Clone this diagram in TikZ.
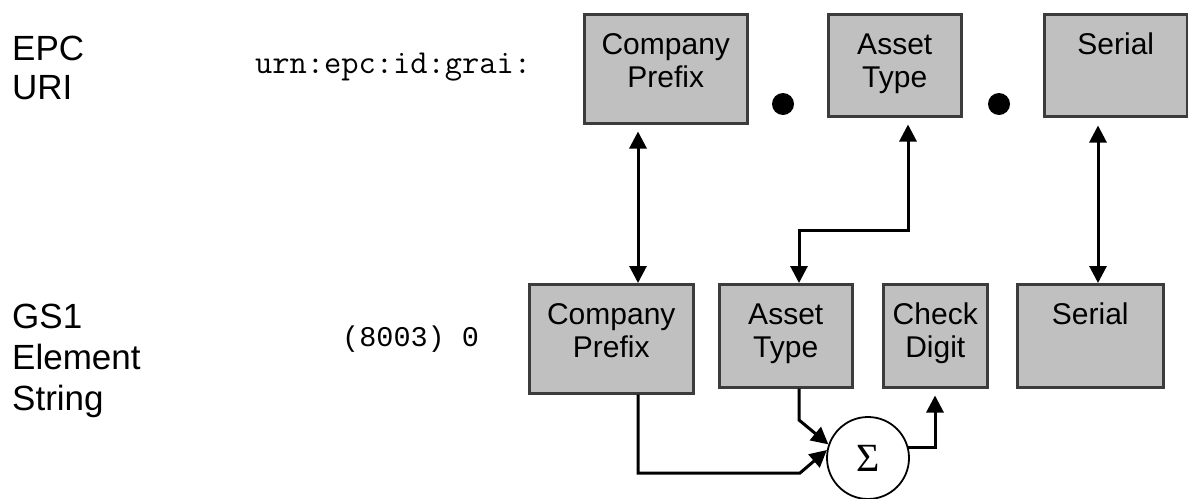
\documentclass[tikz,border=0pt]{standalone}
\usepackage{fontspec}
\setmainfont{Liberation Sans}
\newfontfamily\codefont{Liberation Mono}
\newfontfamily\greekfont{Liberation Serif}
\usetikzlibrary{arrows.meta}

\definecolor{fieldgray}{RGB}{192,192,192}
\definecolor{fieldedge}{RGB}{60,60,60}

% text of a field box: lines centred, first baseline 40pt below the top edge
\newcommand\fieldtext[3]{\parbox[c][#2][t]{#1}{\centering\rule{0pt}{40pt}#3\par}}

\begin{document}
\begin{tikzpicture}[x=1pt,y=-1pt,
  field/.style={draw=fieldedge, line width=2.5pt, fill=fieldgray, inner sep=0pt,
    font=\fontsize{30}{33}\selectfont},
  rowlabel/.style={anchor=base west, align=left, inner sep=0pt,
    font=\fontsize{35}{40}\selectfont},
  wire/.style={line width=3pt, draw=black},
  onehead/.style={-{Triangle[length=17pt,width=17pt]}},
  twohead/.style={{Triangle[length=17pt,width=17pt]}-{Triangle[length=17pt,width=17pt]}},
  sepdot/.style={circle, fill=black, inner sep=0pt, minimum size=22pt},
]
\path[fill=white, use as bounding box] (0,0) rectangle (1188,498);

% row labels (anchored on the baseline of their last line) and fixed prefixes
\node[rowlabel, font=\fontsize{35}{39}\selectfont] (epc) at (12,99) {EPC\\URI};
\node[rowlabel, font=\fontsize{35}{41}\selectfont] (gs1) at (12,410) {GS1\\Element\\String};
\node[anchor=base west, inner sep=0pt, font=\ttfamily\fontsize{33.5}{36}\selectfont]
  (urn) at (255,73) {urn:epc:id:grai:};
\node[anchor=base west, inner sep=0pt, font=\codefont\fontsize{28.5}{30}\selectfont]
  (ai) at (342,346) {(8003) 0};

% EPC URI fields
\node[field, anchor=north west] (ct) at (583,13) {\fieldtext{163pt}{109pt}{Company\\Prefix}};
\node[sepdot] (d1) at (783,104) {};
\node[field, anchor=north west] (at) at (827,13) {\fieldtext{133pt}{102pt}{Asset\\Type}};
\node[sepdot] (d2) at (999,104) {};
\node[field, anchor=north west] (st) at (1043,13) {\fieldtext{143pt}{102pt}{Serial}};

% GS1 element string fields
\node[field, anchor=north west] (cb) at (528,283) {\fieldtext{164pt}{109pt}{Company\\Prefix}};
\node[field, anchor=north west] (ab) at (718,283) {\fieldtext{133pt}{103pt}{Asset\\Type}};
\node[field, anchor=north west] (cd) at (882,283) {\fieldtext{104pt}{103pt}{Check\\Digit}};
\node[field, anchor=north west] (sb) at (1016,283) {\fieldtext{146pt}{103pt}{Serial}};

% check digit summation
\node[draw=black, line width=1.8pt, circle, minimum size=82pt, inner sep=0pt, fill=white,
  font=\greekfont\fontsize{40}{40}\selectfont] (sum) at (868,458) {\raisebox{-5pt}{Σ}};

% connector guide lines
\coordinate (xa) at (638,0);
\coordinate (xb) at (908,0);
\coordinate (xc) at (799,0);
\coordinate (xs) at (1098,0);
\coordinate (xd) at (935,0);
\coordinate (xk) at (800,0);
\coordinate (ymid) at (0,230);
\coordinate (yk) at (0,420);
\coordinate (yb) at (0,473);

% URI <-> element string correspondences
\draw[wire, twohead, shorten <=7pt] (ct.south -| xa) -- (cb.north -| xa);
\draw[wire, twohead, shorten <=7pt] (at.south -| xb) -- (xb |- ymid) -| (ab.north -| xc);
\draw[wire, twohead, shorten <=8pt] (st.south -| xs) -- (sb.north -| xs);

% inputs to the check digit calculation
\draw[wire, onehead] (cb.south -| xa) -- (xa |- yb) -- (xk |- yb) -- (sum.169);
\draw[wire, onehead] (ab.south -| xc) -- (xc |- yk) -- (sum.161);
\draw[wire, onehead, shorten >=7pt] (sum.15) -| (cd.south -| xd);
\end{tikzpicture}
\end{document}
